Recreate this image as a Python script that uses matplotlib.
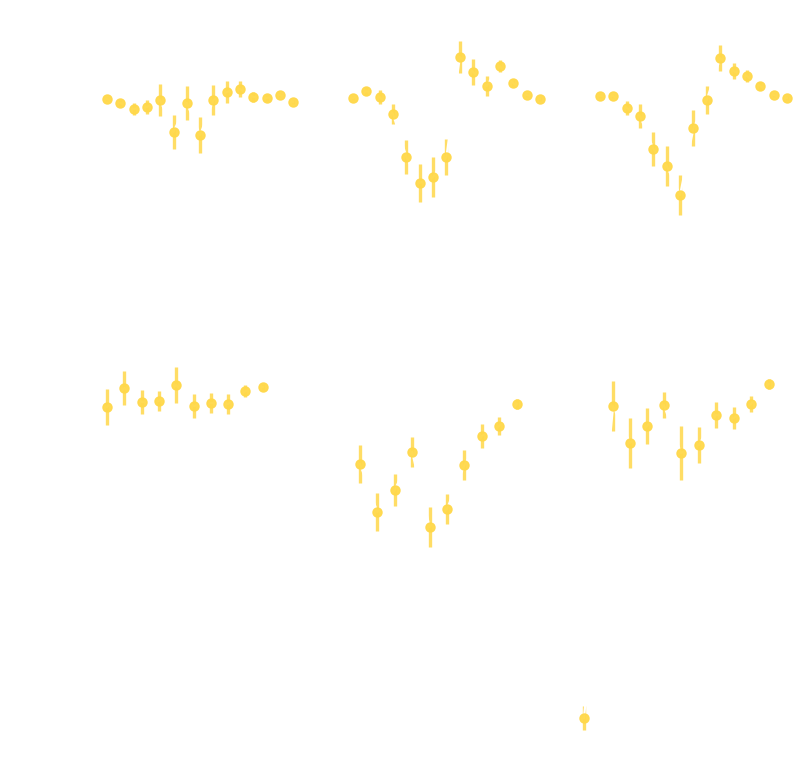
import numpy as np
import matplotlib.pyplot as plt

# panel values (y grows downward)
p1_y = [99, 103, 109, 107, 100, 132, 103, 135, 100, 92, 89, 97, 98, 95, 102]
p1_e = [2, 3, 6, 7, 16, 17, 17, 18, 15, 11, 8, 5, 3, 2, 2]
p2_y = [98, 91, 97, 114, 157, 183, 177, 157, 57, 72, 86, 66, 83, 95, 99]
p2_e = [2, 4, 7, 10, 17, 19, 20, 18, 16, 13, 10, 6, 3, 2, 2]
p3_y = [96, 96, 108, 116, 149, 166, 195, 128, 100, 58, 71, 76, 86, 95, 98]
p3_e = [2, 2, 7, 12, 17, 20, 20, 18, 14, 13, 8, 6, 4, 2, 2]
p4_y = [407, 388, 402, 401, 385, 406, 403, 404, 391, 387]
p4_e = [18, 17, 12, 10, 18, 12, 10, 10, 6, 3]
p5_y = [464, 512, 490, 452, 527, 509, 465, 436, 426, 404]
p5_e = [19, 19, 16, 15, 20, 15, 15, 12, 9, 5]
p6_x = [0, 1.68, 2.66, 3.64, 4.62, 5.6, 6.64, 7.62, 8.66, 9.64, 10.68]
p6_y = [718, 406, 443, 426, 405, 453, 445, 415, 418, 404, 384]
p6_e = [12, 25, 25, 18, 13, 27, 18, 13, 11, 8, 5]

panels = [
    (np.arange(15), p1_y, p1_e, 107, 13.3, (30, 225)),
    (np.arange(15), p2_y, p2_e, 353, 13.35, (30, 225)),
    (np.arange(15), p3_y, p3_e, 600, 13.35, (30, 225)),
    (np.arange(10), p4_y, p4_e, 107, 17.3, (350, 745)),
    (np.arange(10), p5_y, p5_e, 360, 17.4, (350, 745)),
    (np.array(p6_x), p6_y, p6_e, 584, 17.3, (350, 745)),
]

W, H = 798, 782
fig = plt.figure(figsize=(W / 100, H / 100), dpi=100)
col_px = [(85, 315), (330, 565), (575, 798)]
color = '#FFD84A'

for i, (x, y, e, x0, step, (ytop, ybot)) in enumerate(panels):
    l, r = col_px[i % 3]
    ax = fig.add_axes([l / W, 1 - ybot / H, (r - l) / W, (ybot - ytop) / H])
    ax.set_xlim((l - x0) / step, (r - x0) / step)
    ax.set_ylim(ybot, ytop)
    ax.errorbar(x, y, yerr=e, fmt='none', ecolor=color, elinewidth=2.4,
                alpha=0.85, zorder=1)
    ax.plot(x, y, color='white', lw=1.6, zorder=2)
    ax.plot(x, y, 'o', color=color, ms=6.5, alpha=0.95, zorder=3)
    ax.axis('off')

fig.savefig('out.png', dpi=100, facecolor='white')
